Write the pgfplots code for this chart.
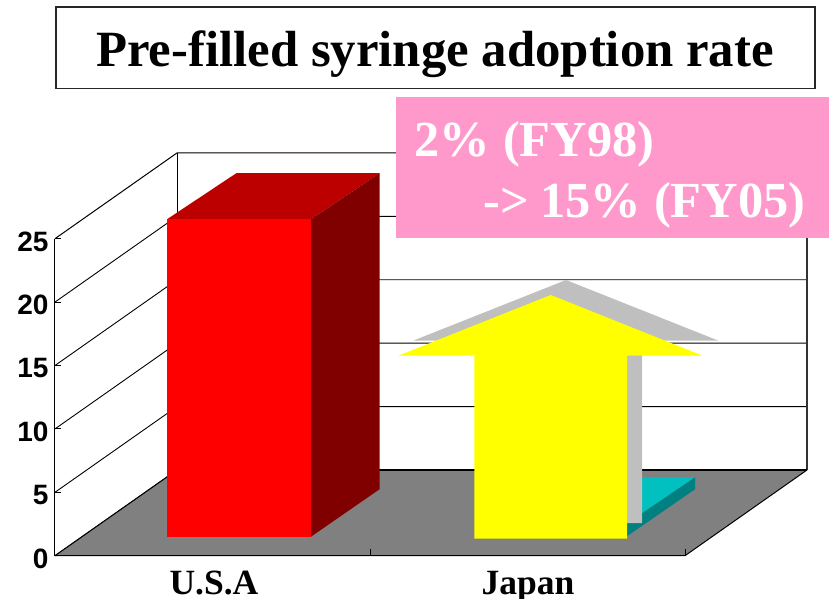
\documentclass[border=0pt]{standalone}
\usepackage{fontspec}
\setmainfont{Liberation Serif}
\newfontfamily\ticksans{Liberation Sans}
\usepackage{pgfplots}
\pgfplotsset{compat=1.18}
\definecolor{floorgray}{HTML}{808080}
\definecolor{pinkbox}{HTML}{FF99CC}
\definecolor{shadowgray}{HTML}{BFBFBF}
\definecolor{redtop}{HTML}{BC0000}
\definecolor{redside}{HTML}{800000}
\definecolor{cyantop}{HTML}{00C0C0}
\definecolor{cyanside}{HTML}{008080}
\definecolor{arrowyellow}{RGB}{255,255,0}
\definecolor{purered}{RGB}{255,0,0}

\begin{document}
\begin{tikzpicture}
\path[use as bounding box] (-55pt,-42.3pt) rectangle (774pt,555.7pt);
\begin{axis}[
    scale only axis,
    width=774pt, height=555.7pt,
    xmin=55, xmax=829,
    ymin=0, ymax=43.82,
    clip=false,
    axis x line=bottom, axis y line=left,
    axis line style={draw=none, -},
    ytick={0,5,10,15,20,25},
    xtick={214,528},
    xticklabels={U.S.A,Japan},
    x tick style={draw=none},
    y tick style={black, line width=0.8pt},
    major tick length=6pt,
    tick align=inside,
    /pgf/number format/assume math mode=true,
    yticklabel style={font=\ticksans\bfseries\fontsize{28}{30}\selectfont, yshift=-3pt, xshift=-3pt},
    xticklabel style={font=\bfseries\fontsize{35.5}{38}\selectfont, anchor=base, yshift=-38.3pt},
]
% walls
\addplot[black, line width=1pt] coordinates {(55,0)(177,6.76)(807,6.76)};
\addplot[black, line width=0.9pt] coordinates {(55,5)(177,11.76)(807,11.76)};
\addplot[black, line width=0.9pt] coordinates {(55,10)(177,16.76)(807,16.76)};
\addplot[black, line width=0.9pt] coordinates {(55,15)(177,21.76)(807,21.76)};
\addplot[black, line width=0.9pt] coordinates {(55,20)(177,26.76)(807,26.76)};
\addplot[black, line width=1pt] coordinates {(55,25)(177,31.76)(807,31.76)};
\addplot[black, line width=1pt] coordinates {(55,0)(55,25)};
\addplot[black, line width=1pt] coordinates {(177,6.76)(177,31.76)};
\addplot[black!80, line width=1.2pt] coordinates {(807,6.76)(807,31.76)};
% floor
\addplot[fill=floorgray, draw=none] coordinates {(55,0)(177,6.76)(807,6.76)(685,0)} -- cycle;
\addplot[black, line width=1pt] coordinates {(55,0)(685,0)(807,6.76)};
\addplot[black, line width=1pt] coordinates {(55,0)(177,6.76)};
\addplot[black, line width=1.5pt] coordinates {(177,6.76)(807,6.76)};
\addplot[black, line width=0.8pt] coordinates {(370,0)(370,0.55)};
\addplot[black, line width=0.8pt] coordinates {(685,0)(685,0.55)};
% Japan bar, value 1
\addplot[fill=cyantop, draw=none] coordinates {(483.3,2.5)(552,6.18)(695,6.18)(626.3,2.5)} -- cycle;
\addplot[fill=cyanside, draw=none] coordinates {(626.3,1.5)(695,5.24)(695,6.18)(626.3,2.5)} -- cycle;
% U.S.A bar, value 25
\addplot[fill=redtop, draw=none] coordinates {(167,26.53)(236.3,30.16)(379.5,30.16)(311,26.53)} -- cycle;
\addplot[fill=redside, draw=none] coordinates {(311,1.5)(379.5,5.24)(379.5,30.16)(311,26.53)} -- cycle;
\addplot[fill=purered, draw=none] coordinates {(167,1.5)(311,1.5)(311,26.53)(167,26.53)} -- cycle;
% arrow and its shadow
\addplot[fill=shadowgray, draw=none] coordinates {(489.3,2.56)(642,2.56)(642,16.96)(718.3,16.96)(566,21.74)(413.3,16.96)(489.3,16.96)} -- cycle;
\addplot[fill=arrowyellow, draw=none] coordinates {(474.3,1.34)(627,1.34)(627,15.77)(702.7,15.77)(550.7,20.56)(398.3,15.77)(474.3,15.77)} -- cycle;
% callout
\addplot[fill=pinkbox, draw=none] coordinates {(396,36.16)(829,36.16)(829,25.06)(396,25.06)} -- cycle;
\node[anchor=base west, inner sep=0pt, text=white, font=\bfseries\fontsize{50.5}{52}\selectfont] at (axis cs:414.5,31.48) {2\% (FY98)};
\node[anchor=base west, inner sep=0pt, text=white, font=\bfseries\fontsize{50.5}{52}\selectfont] at (axis cs:483.5,26.65) {->\hspace{-1.5pt} 15\% (FY05)};
% title
\addplot[draw=black!85, line width=1.5pt, fill=white] coordinates {(56,43.27)(815,43.27)(815,36.83)(56,36.83)} -- cycle;
\node[anchor=base, inner sep=0pt, font=\bfseries\fontsize{50.8}{53}\selectfont] at (axis cs:435,38.54) {Pre-filled syringe adoption rate};
\end{axis}
\end{tikzpicture}
\end{document}
